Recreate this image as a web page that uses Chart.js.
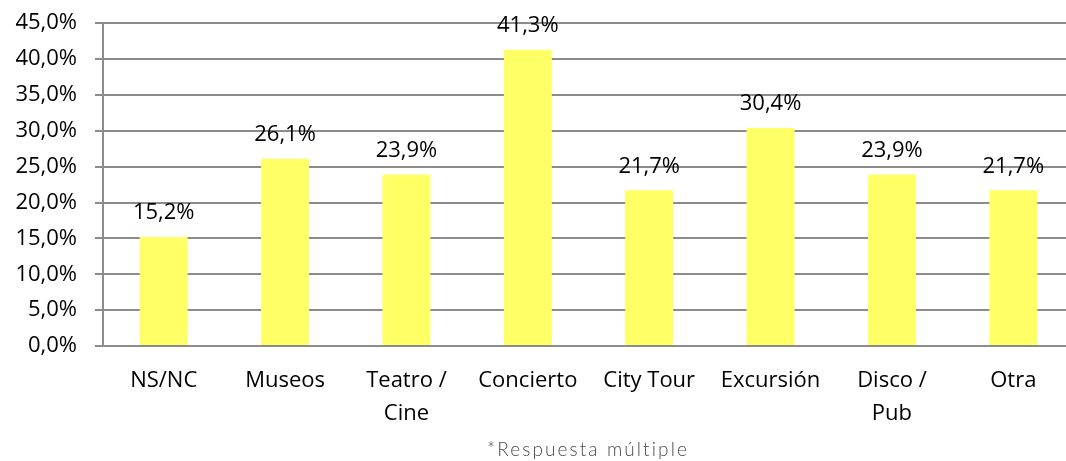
<!DOCTYPE html>
<html>
<head>
<meta charset="utf-8">
<script src="https://cdn.jsdelivr.net/npm/chart.js@4"></script>
<style>
  html, body { margin: 0; padding: 0; background: #fff; overflow: hidden; }
  #wrap { position: relative; width: 1075px; height: 461px; overflow: hidden; }
  #chart { position: absolute; left: 0; top: -8px; }
  #note {
    position: absolute; left: 438px; top: 437px; width: 300px;
    text-align: center; font-family: Lato, "Open Sans", sans-serif;
    font-size: 19px; font-weight: 300; letter-spacing: 2.1px; color: #4a4a4a; white-space: nowrap;
  }
</style>
</head>
<body>
<div id="wrap">
  <canvas id="chart" width="1075" height="469"></canvas>
  <div id="note">*Respuesta múltiple</div>
</div>
<script>
const categories = ["NS/NC", "Museos", ["Teatro /", "Cine"], "Concierto", "City Tour", "Excursión", ["Disco /", "Pub"], "Otra"];
const percentages = [15.2, 26.1, 23.9, 41.3, 21.7, 30.4, 23.9, 21.7];
const yTicks = [0, 5, 10, 15, 20, 25, 30, 35, 40, 45];

const fmt = v => v.toFixed(1).replace(".", ",") + "%";
const gridColor = "#8c8c8c";
const fontFamily = "'Open Sans', sans-serif";

// draws the value above each bar
const barLabels = {
  id: "barLabels",
  afterDatasetsDraw(chart) {
    const ctx = chart.ctx;
    const meta = chart.getDatasetMeta(0);
    ctx.save();
    ctx.font = "22px " + fontFamily;
    ctx.fillStyle = "#000";
    ctx.textAlign = "center";
    ctx.textBaseline = "middle";
    meta.data.forEach((bar, i) => {
      ctx.fillText(fmt(percentages[i]), bar.x, bar.y - 24);
    });
    ctx.restore();
  }
};

new Chart(document.getElementById("chart"), {
  type: "bar",
  data: {
    labels: categories,
    datasets: [{
      data: percentages,
      backgroundColor: "#ffff66",
      barPercentage: 1,
      categoryPercentage: 0.395
    }]
  },
  options: {
    responsive: false,
    animation: false,
    layout: { padding: { top: 15, right: 1, left: 0, bottom: 0 } },
    plugins: { legend: { display: false }, tooltip: { enabled: false } },
    scales: {
      x: {
        grid: { display: false, drawTicks: false },
        border: { display: true, color: gridColor, width: 2 },
        ticks: {
          color: "#000",
          font: { family: fontFamily, size: 22, lineHeight: 1.5 },
          padding: 18,
          maxRotation: 0,
          autoSkip: false
        },
        afterFit: s => { s.height = 115; }
      },
      y: {
        min: 0,
        max: 45,
        afterBuildTicks: s => { s.ticks = yTicks.map(v => ({ value: v })); },
        grid: { color: gridColor, lineWidth: 2, tickLength: 8 },
        border: { display: true, color: gridColor, width: 2 },
        ticks: {
          color: "#000",
          font: { family: fontFamily, size: 22 },
          padding: 18,
          callback: v => fmt(v)
        },
        afterFit: s => { s.width = 103; }
      }
    }
  },
  plugins: [barLabels]
});
</script>
</body>
</html>
